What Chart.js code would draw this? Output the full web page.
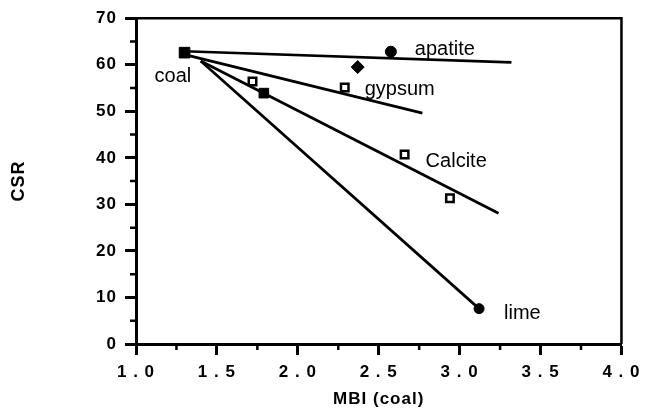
<!DOCTYPE html>
<html>
<head>
<meta charset="utf-8">
<script src="https://cdn.jsdelivr.net/npm/chart.js@4/dist/chart.umd.min.js"></script>
<style>
  html, body { margin: 0; padding: 0; background: #fff; }
</style>
</head>
<body>
<canvas id="chart" width="645" height="413"></canvas>
<script>
// CSR against MBI (coal)
const coalPoints = [{ x: 1.30, y: 62.6 }];
const apatitePoints = [{ x: 2.37, y: 59.5 }, { x: 2.575, y: 62.8 }];
const gypsumPoints = [{ x: 1.72, y: 56.4 }, { x: 2.29, y: 55.1 }];
const calcitePoints = [{ x: 1.79, y: 53.9 }, { x: 2.66, y: 40.7 }, { x: 2.94, y: 31.3 }];
const limePoints = [{ x: 3.12, y: 7.6 }];

// trend lines, start and end
const apatiteLine = [{ x: 1.30, y: 62.9 }, { x: 3.32, y: 60.5 }];
const gypsumLine = [{ x: 1.32, y: 62.0 }, { x: 2.77, y: 49.6 }];
const calciteLine = [{ x: 1.40, y: 60.8 }, { x: 3.24, y: 28.1 }];
const limeLine = [{ x: 1.40, y: 60.8 }, { x: 3.12, y: 7.6 }];

const xTickValues = [1.0, 1.5, 2.0, 2.5, 3.0, 3.5, 4.0];
const xMinorTicks = [1.25, 1.75, 2.25, 2.75, 3.25, 3.75];
const yTickValues = [0, 10, 20, 30, 40, 50, 60, 70];
const yMinorTicks = [5, 15, 25, 35, 45, 55, 65];

const FONT = '"Liberation Sans", Arial, Helvetica, sans-serif';

// text next to the markers: which point it hangs off, and pixel offset
const markerLabels = [
  { text: 'coal', pts: coalPoints, i: 0, dx: -30, dy: 29 },
  { text: 'apatite', pts: apatitePoints, i: 1, dx: 24, dy: 3 },
  { text: 'gypsum', pts: gypsumPoints, i: 1, dx: 20, dy: 7 },
  { text: 'Calcite', pts: calcitePoints, i: 1, dx: 21, dy: 12 },
  { text: 'lime', pts: limePoints, i: 0, dx: 25, dy: 10 }
];

const frame = {
  id: 'frame',
  beforeDraw(chart) { chart.ctx.letterSpacing = '1px'; },
  beforeDatasetsDraw(chart) { chart.ctx.letterSpacing = '0px'; },
  afterDatasetsDraw(chart) {
    const { ctx, scales: { x, y } } = chart;
    ctx.save();
    ctx.fillStyle = '#000';
    ctx.font = '20px ' + FONT;
    ctx.textAlign = 'left';
    ctx.textBaseline = 'alphabetic';
    markerLabels.forEach(l => {
      const p = l.pts[l.i];
      ctx.fillText(l.text, x.getPixelForValue(p.x) + l.dx, y.getPixelForValue(p.y) + l.dy);
    });
    ctx.restore();
  },
  afterDraw(chart) {
    const { ctx, chartArea: a, scales: { x, y } } = chart;
    ctx.save();
    ctx.strokeStyle = '#000';
    ctx.lineWidth = 2.5;
    ctx.beginPath();
    ctx.moveTo(a.left, a.top);
    ctx.lineTo(a.right, a.top);
    ctx.lineTo(a.right, a.bottom);
    ctx.stroke();

    ctx.beginPath();
    xMinorTicks.forEach(v => {
      const px = x.getPixelForValue(v);
      ctx.moveTo(px, a.bottom);
      ctx.lineTo(px, a.bottom + 6);
    });
    yMinorTicks.forEach(v => {
      const py = y.getPixelForValue(v);
      ctx.moveTo(a.left, py);
      ctx.lineTo(a.left - 6, py);
    });
    ctx.stroke();
    ctx.restore();
  }
};

const lineSet = (data) => ({
  data, showLine: true, borderColor: '#000', borderWidth: 2.7,
  pointRadius: 0, pointHoverRadius: 0, order: 2
});

new Chart(document.getElementById('chart'), {
  type: 'scatter',
  data: {
    datasets: [
      {
        label: 'coal', data: coalPoints, pointStyle: 'rect', pointRadius: 7.5,
        backgroundColor: '#000', borderColor: '#000', borderWidth: 1, order: 1
      },
      {
        label: 'apatite', data: apatitePoints, pointStyle: ['rectRot', 'circle'],
        pointRadius: [6.5, 5.5], backgroundColor: '#000', borderColor: '#000', borderWidth: 1, order: 1
      },
      {
        label: 'gypsum', data: gypsumPoints, pointStyle: 'rect', pointRadius: 5.3,
        backgroundColor: '#fff', borderColor: '#000', borderWidth: 2.5, order: 1
      },
      {
        label: 'Calcite', data: calcitePoints, pointStyle: 'rect', pointRadius: [6.8, 5.3, 5.3],
        backgroundColor: ['#000', '#fff', '#fff'], borderColor: '#000', borderWidth: [1, 2.5, 2.5], order: 1
      },
      {
        label: 'lime', data: limePoints, pointStyle: 'circle', pointRadius: 5,
        backgroundColor: '#000', borderColor: '#000', borderWidth: 1, order: 1
      },
      lineSet(apatiteLine),
      lineSet(gypsumLine),
      lineSet(calciteLine),
      lineSet(limeLine)
    ]
  },
  options: {
    responsive: false,
    animation: false,
    devicePixelRatio: 1,
    layout: { padding: { top: 15, right: 22, left: 0, bottom: 0 } },
    plugins: { legend: { display: false }, tooltip: { enabled: false } },
    scales: {
      x: {
        type: 'linear', min: 1, max: 4,
        afterBuildTicks: s => { s.ticks = xTickValues.map(v => ({ value: v })); },
        afterFit: s => { s.height = 69; },
        ticks: {
          color: '#000', autoSkip: false, maxRotation: 0, padding: 7,
          font: { family: FONT, size: 17, weight: 'bold' },
          callback: v => Number(v).toFixed(1).split('').join(' ')
        },
        grid: { drawOnChartArea: false, tickLength: 11, tickWidth: 3, tickColor: '#000' },
        border: { color: '#000', width: 3 },
        title: {
          display: true, text: 'MBI (coal)', color: '#000',
          font: { family: FONT, size: 17, weight: 'bold' }, padding: { top: 0, bottom: 3 }
        }
      },
      y: {
        type: 'linear', min: 0, max: 70,
        afterBuildTicks: s => { s.ticks = yTickValues.map(v => ({ value: v })); },
        afterFit: s => { s.width = 136; },
        ticks: {
          color: '#000', padding: 8,
          font: { family: FONT, size: 17, weight: 'bold' }
        },
        grid: { drawOnChartArea: false, tickLength: 11, tickWidth: 3, tickColor: '#000' },
        border: { color: '#000', width: 3 },
        title: {
          display: true, text: 'CSR', color: '#000',
          font: { family: FONT, size: 18, weight: 'bold' }, padding: { top: 8, bottom: 0 }
        }
      }
    }
  },
  plugins: [frame]
});
</script>
</body>
</html>
